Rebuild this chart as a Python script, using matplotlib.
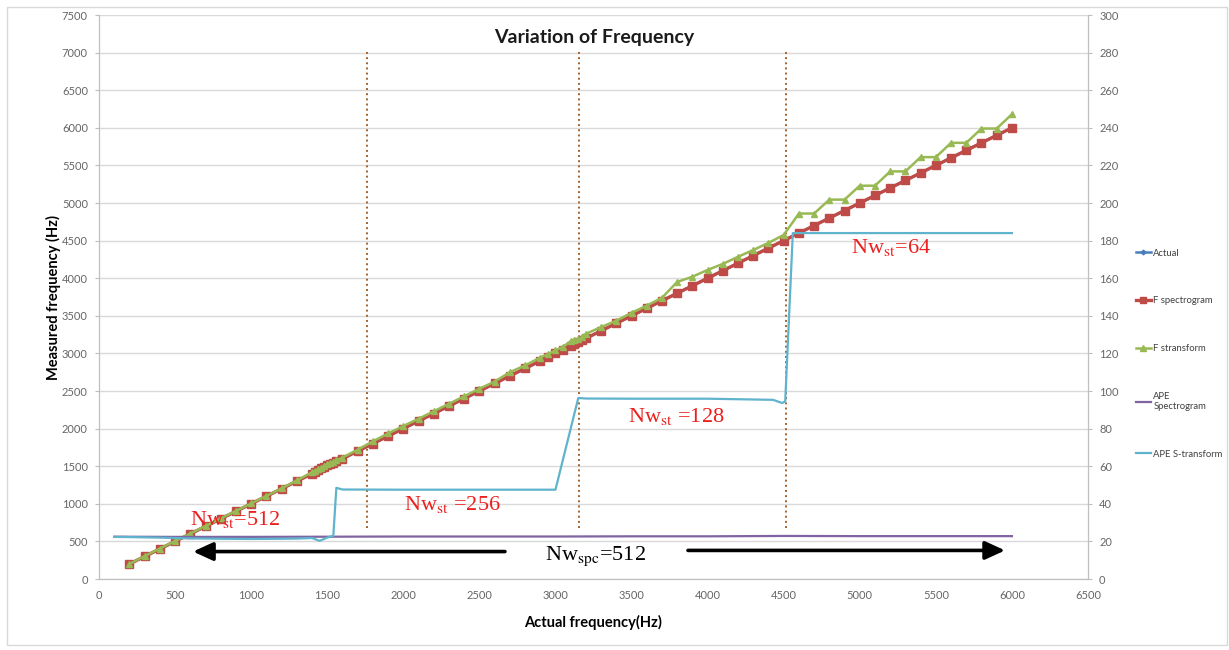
import numpy as np
import matplotlib.pyplot as plt
from matplotlib.patches import Rectangle

plt.rcParams['font.family'] = ['Lato', 'DejaVu Sans']
plt.rcParams['mathtext.fontset'] = 'stix'

# actual input frequencies (Hz)
freq = [200, 300, 400, 500, 600, 700, 800, 900, 1000, 1100, 1200, 1300, 1400,
        1420, 1440, 1460, 1480, 1500, 1520, 1540, 1560, 1600, 1700, 1800, 1900,
        2000, 2100, 2200, 2300, 2400, 2500, 2600, 2700, 2800, 2900, 2950, 3000,
        3050, 3100, 3125, 3150, 3175, 3200, 3300, 3400, 3500, 3600, 3700, 3800,
        3900, 4000, 4100, 4200, 4300, 4400, 4500, 4600, 4700, 4800, 4900, 5000,
        5100, 5200, 5300, 5400, 5500, 5600, 5700, 5800, 5900, 6000]

actual = list(freq)

f_spec = [200, 300, 400, 500, 600, 700, 800, 900, 1000, 1100, 1200, 1300, 1400,
          1425, 1450, 1470, 1490, 1510, 1530, 1545, 1565, 1600, 1700, 1800, 1900,
          2000, 2100, 2200, 2300, 2400, 2500, 2600, 2700, 2800, 2900, 2950, 3000,
          3050, 3100, 3125, 3150, 3175, 3200, 3300, 3400, 3500, 3600, 3700, 3800,
          3900, 4000, 4100, 4200, 4300, 4400, 4500, 4600, 4700, 4800, 4900, 5000,
          5100, 5200, 5300, 5400, 5500, 5600, 5700, 5800, 5900, 6000]

f_strans = [200, 305, 405, 505, 605, 705, 805, 905, 1005, 1105, 1205, 1310, 1420,
            1440, 1460, 1480, 1505, 1525, 1545, 1560, 1580, 1615, 1720, 1830, 1935,
            2035, 2130, 2230, 2330, 2430, 2530, 2625, 2750, 2840, 2945, 2990, 3040,
            3090, 3160, 3175, 3190, 3215, 3260, 3350, 3435, 3540, 3635, 3740, 3950,
            4020, 4110, 4190, 4285, 4375, 4470, 4575, 4860, 4860, 5045, 5045, 5230,
            5230, 5420, 5420, 5610, 5610, 5800, 5800, 5990, 5990, 6180]

# absolute percentage errors (right axis)
ape_spec_x = [100, 500, 1000, 1500, 2000, 2500, 3000, 3500, 4000, 4500, 5000, 5500, 6000]
ape_spec = [22.5, 22.4, 22.4, 22.5, 22.6, 22.6, 22.6, 22.7, 22.7, 22.9, 22.8, 22.8, 22.8]

ape_st_x = [100, 200, 400, 600, 800, 1000, 1200, 1300, 1400, 1450, 1500, 1540,
            1560, 1600, 2000, 2500, 3000, 3150, 3200, 3500, 4000, 4430, 4490,
            4510, 4560, 4600, 5000, 5500, 6000]
ape_st = [22.4, 22.3, 22.0, 21.6, 21.4, 21.3, 21.4, 21.5, 21.8, 20.3, 22.0, 23.0,
          48.5, 47.6, 47.5, 47.5, 47.5, 96.3, 96.0, 95.9, 95.9, 95.3, 93.6,
          94.5, 184.0, 184.0, 184.0, 184.0, 184.0]

boundaries = [1760, 3155, 4515]

fig = plt.figure(figsize=(12.29, 6.5), dpi=100)
ax = fig.add_axes([99/1229, 71/650, 989/1229, 564/650])
ax2 = ax.twinx()

fig.patches.append(Rectangle((7/1229, 5/650), 1220/1229, 638/650, transform=fig.transFigure,
                             fill=False, ec='#d9d9d9', lw=1))

gray = '#bfbfbf'
ax.set_xlim(0, 6500)
ax.set_ylim(0, 7500)
ax2.set_ylim(0, 300)
ax.set_xticks(np.arange(0, 6501, 500))
ax.set_yticks(np.arange(0, 7501, 500))
ax2.set_yticks(np.arange(0, 301, 20))
ax.grid(axis='y', color='#d9d9d9', lw=1)
ax.set_axisbelow(True)

for a in (ax, ax2):
    a.spines['top'].set_visible(False)
    for s in ('left', 'right', 'bottom'):
        a.spines[s].set_color(gray)
ax.tick_params(axis='x', length=0, pad=8, labelsize=8, labelcolor='#666666')
ax.tick_params(axis='y', length=3, pad=5, color=gray, labelsize=8, labelcolor='#666666')
ax2.tick_params(axis='y', length=3, pad=5, color=gray, labelsize=8, labelcolor='#666666')

ax.plot(freq, actual, color='#4a7ebb', lw=1.8, marker='D', ms=3, label='Actual', zorder=3)
ax.plot(freq, f_spec, color='#be4b48', lw=2.4, marker='s', ms=5.5, label='F spectrogram', zorder=4)
ax.plot(freq, f_strans, color='#98b954', lw=1.8, marker='^', ms=5, label='F stransform', zorder=5)
ax2.plot(ape_spec_x, ape_spec, color='#8064a2', lw=1.6, label='APE\nSpectrogram')
ax2.plot(ape_st_x, ape_st, color='#5fb3cc', lw=1.6, label='APE S-transform')

for b in boundaries:
    ax.axvline(b, ymin=0.09, ymax=0.934, color='#a5622a', ls=':', lw=1.4)

ax.text(0.5005, 0.96, 'Variation of Frequency', transform=ax.transAxes, ha='center',
        va='center', fontsize=14, fontweight='bold', color='#1a1a1a')
ax.set_ylabel('Measured frequency (Hz)', fontsize=10.5, fontweight='bold', labelpad=0.5)
ax.set_xlabel('Actual frequency(Hz)', fontsize=10.5, fontweight='bold', labelpad=10)

red = '#ec1f1f'
tkw = dict(color=red, fontsize=16, family='Liberation Serif', va='baseline', zorder=6)
ax.text(598, 718, r'Nw$_{\rm st}$=512', **tkw)
ax.text(2005, 918, r'Nw$_{\rm st}$ =256', **tkw)
ax.text(3477, 2088, r'Nw$_{\rm st}$ =128', **tkw)
ax.text(4942, 4335, r'Nw$_{\rm st}$=64', **tkw)
ax.text(2931, 253, r'Nw$_{\rm spc}$=512', color='black', fontsize=16,
        family='Liberation Serif', va='baseline', zorder=6)

akw = dict(arrowstyle='-|>,head_length=1.2,head_width=0.55', color='black', lw=2.6,
           shrinkA=0, shrinkB=0, mutation_scale=10)
ax.annotate('', xy=(618, 365), xytext=(2668, 365), arrowprops=akw)
ax.annotate('', xy=(5955, 380), xytext=(3871, 380), arrowprops=akw)

h1, l1 = ax.get_legend_handles_labels()
h2, l2 = ax2.get_legend_handles_labels()
fig.legend(h1 + h2, l1 + l2, loc='upper left', bbox_to_anchor=(1127/1229, 1 - 240/650),
           bbox_transform=fig.transFigure, frameon=False, fontsize=6.8, labelspacing=4.1,
           handlelength=1.6, handletextpad=0.3, labelcolor='#404040', markerscale=0.8)

fig.savefig('out.png', dpi=100)
